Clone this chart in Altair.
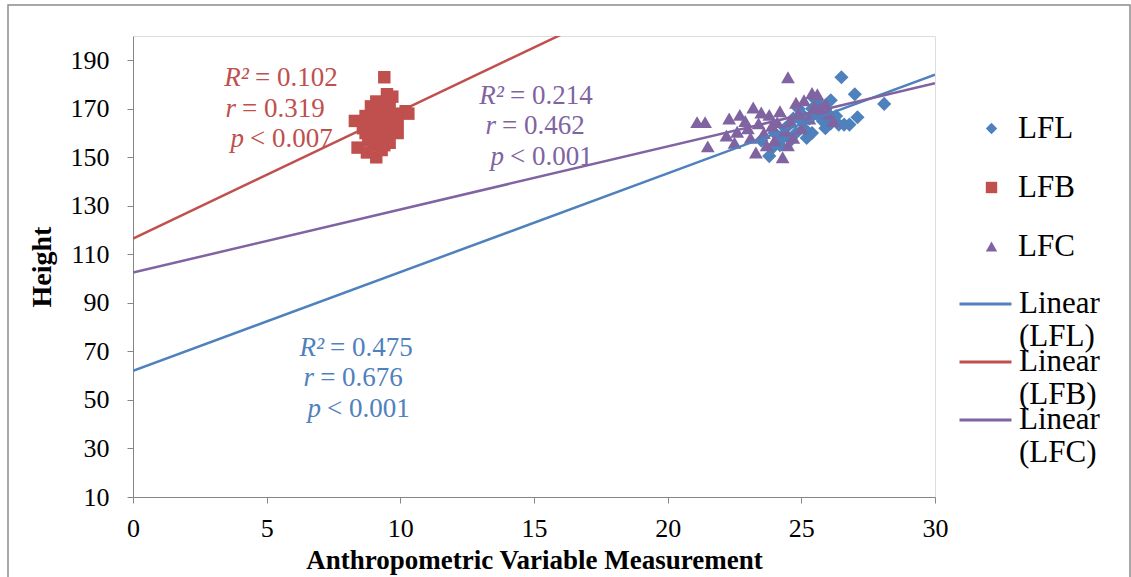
import altair as alt
import pandas as pd

# ---------------- data ----------------
series_names = ["LFL", "LFB", "LFC"]
series_colors = ["#4F81BD", "#C0504D", "#8064A2"]
series_shapes = ["diamond", "square", "triangle-up"]
series_sizes = [200, 155, 190]

lfl_x = [26.5, 27.0, 28.1, 27.1, 26.1, 25.7, 25.4, 26.1, 26.4, 26.6, 26.8, 25.9,
         25.4, 25.1, 25.0, 24.6, 23.9, 23.8, 24.2, 24.8, 25.3, 24.5, 24.0, 25.6,
         24.9, 25.8, 24.3, 25.2, 26.0, 24.7, 23.5, 25.5, 24.4, 26.3, 25.0]
lfl_y = [183, 176, 172, 166.5, 173.5, 172, 170, 164, 163.5, 163.5, 163.5, 162,
         160, 162, 165, 157, 153.7, 150.5, 155, 160, 166, 163, 160, 168,
         170, 165, 158, 158, 168, 166, 157, 174, 162, 167, 168]

lfb_x = [9.4, 9.5, 9.7, 9.1, 9.3, 8.9, 9.6, 9.0, 9.4, 9.8, 10.2, 10.3, 8.7, 9.2,
         9.6, 8.3, 8.8, 9.1, 9.5, 9.9, 8.6, 9.0, 9.4, 9.8, 8.7, 9.1, 9.5, 9.9,
         8.8, 9.2, 9.6, 8.4, 9.0, 9.4, 8.75, 9.1, 9.3, 9.7]
lfb_y = [183, 176, 175, 173, 172, 171, 171, 169, 169, 168, 169, 168, 167, 167,
         166, 165, 165, 164, 164, 165, 162, 162, 161, 162, 160, 159, 159, 160,
         157, 157, 156, 154, 155, 155, 152, 150, 153, 165]

lfc_x = [21.1, 21.4, 21.5, 22.2, 22.3, 22.5, 22.6, 22.7, 23.0, 23.2, 23.3, 23.4,
         23.5, 23.6, 23.8, 23.9, 24.0, 24.2, 24.3, 24.4, 24.5, 24.6, 24.7, 24.8,
         24.9, 25.0, 25.1, 25.3, 25.4, 25.6, 25.7, 25.9, 26.0, 26.2, 23.1, 22.9,
         24.1, 25.5, 23.7, 24.5]
lfc_y = [164.5, 164.5, 154.5, 159, 166, 156, 160.5, 167.5, 162, 170.5, 152, 164,
         168.5, 160, 167.5, 163, 157, 169, 150, 161, 183, 165, 158, 172.5,
         168, 162, 173.5, 166, 176.5, 176, 170, 172, 168, 165, 158, 165,
         164.5, 171, 155, 155]

trend_names = ["Linear (LFL)", "Linear (LFB)", "Linear (LFC)"]
trend_intercepts = [62.0, 116.5, 102.5]
trend_slopes = [4.07, 5.25, 2.6]
trend_x_range = [0, 30]

ann_var = ["R²", "r", "p", "R²", "r", "p", "R²", "r", "p"]
ann_rest = ["= 0.102", "= 0.319", "< 0.007",
            "= 0.214", "= 0.462", "< 0.001",
            "= 0.475", "= 0.676", "< 0.001"]
ann_x = [4.56, 4.08, 4.38, 14.10, 13.80, 14.10, 7.37, 7.00, 7.26]
ann_y = [182.6, 169.8, 157.4, 175.2, 162.8, 150.0, 71.4, 59.0, 46.2]
ann_series = ["LFB"] * 3 + ["LFC"] * 3 + ["LFL"] * 3

x_ticks = [0, 5, 10, 15, 20, 25, 30]
y_ticks = [10, 30, 50, 70, 90, 110, 130, 150, 170, 190]

# ---------------- tables ----------------
pts = pd.concat([
    pd.DataFrame({"x": lfl_x, "y": lfl_y, "series": "LFL"}),
    pd.DataFrame({"x": lfb_x, "y": lfb_y, "series": "LFB"}),
    pd.DataFrame({"x": lfc_x, "y": lfc_y, "series": "LFC"}),
], ignore_index=True)

trend_rows = []
for name, b, m in zip(trend_names, trend_intercepts, trend_slopes):
    for xv in trend_x_range:
        trend_rows.append({"x": xv, "y": b + m * xv, "trend": name})
trend = pd.DataFrame(trend_rows)

color_of = dict(zip(series_names, series_colors))
ann = pd.DataFrame({"x": ann_x, "y": ann_y, "var": ann_var, "rest": ann_rest,
                    "col": [color_of[s] for s in ann_series]})

FONT = "Liberation Serif"
xscale = alt.Scale(domain=[0, 30], nice=False, zero=False)
yscale = alt.Scale(domain=[10, 200], nice=False, zero=False)

xaxis = alt.Axis(values=x_ticks, title="Anthropometric Variable Measurement",
                 grid=False, domainColor="#868686", tickColor="#868686",
                 tickSize=6, labelPadding=12, labelFontSize=26, labelFont=FONT,
                 labelColor="black", labelFlush=False, titleFont=FONT,
                 titleFontSize=27, titleFontWeight="bold", titleColor="black",
                 titlePadding=6)
yaxis = alt.Axis(values=y_ticks, title="Height", grid=False,
                 domainColor="#868686", tickColor="#868686", tickSize=6,
                 labelPadding=18, labelFontSize=26, labelFont=FONT,
                 labelColor="black", titleFont=FONT, titleFontSize=28,
                 titleFontWeight="bold", titleColor="black", titlePadding=14)

pt_legend = alt.Legend(title=None, orient="none", legendX=843, legendY=77,
                       symbolSize=130, labelFont=FONT, labelFontSize=31,
                       labelColor="black", labelOffset=11, rowPadding=27,
                       symbolStrokeWidth=0)

point_layers = []
for name, size in zip(series_names, series_sizes):
    point_layers.append(
        alt.Chart(pts).transform_filter(alt.datum.series == name)
        .mark_point(filled=True, opacity=1, size=size).encode(
            x=alt.X("x:Q", scale=xscale, axis=xaxis),
            y=alt.Y("y:Q", scale=yscale, axis=yaxis),
            color=alt.Color("series:N",
                            scale=alt.Scale(domain=series_names, range=series_colors),
                            legend=pt_legend),
            shape=alt.Shape("series:N",
                            scale=alt.Scale(domain=series_names, range=series_shapes),
                            legend=pt_legend),
        )
    )

lines = alt.Chart(trend).mark_line(strokeWidth=2.5, clip=True).encode(
    x=alt.X("x:Q", scale=xscale),
    y=alt.Y("y:Q", scale=yscale),
    detail="trend:N",
    stroke=alt.Stroke("trend:N",
                      scale=alt.Scale(domain=trend_names, range=series_colors),
                      legend=alt.Legend(title=None, orient="none", legendX=825,
                                        legendY=258, symbolType="stroke",
                                        symbolSize=2704, symbolStrokeWidth=3,
                                        labelFont=FONT, labelFontSize=31,
                                        labelColor="black", labelOffset=6,
                                        labelBaseline="middle", labelLimit=300,
                                        labelExpr="split(datum.label, ' ')",
                                        clipHeight=20, rowPadding=-6)),
)

ann_var_layer = alt.Chart(ann).mark_text(
    font=FONT, fontSize=27, fontStyle="italic", align="right", baseline="middle", dx=-6
).encode(
    x=alt.X("x:Q", scale=xscale), y=alt.Y("y:Q", scale=yscale),
    text="var:N", fill=alt.Fill("col:N", scale=None, legend=None))

ann_rest_layer = alt.Chart(ann).mark_text(
    font=FONT, fontSize=27, align="left", baseline="middle", dx=0
).encode(
    x=alt.X("x:Q", scale=xscale), y=alt.Y("y:Q", scale=yscale),
    text="rest:N", fill=alt.Fill("col:N", scale=None, legend=None))

frame = alt.Chart(pd.DataFrame({"f": [0]})).mark_rect(
    fillOpacity=0, stroke="#8c8c8c", strokeWidth=1.5
).encode(x=alt.value(-125), x2=alt.value(997), y=alt.value(-31), y2=alt.value(560))

chart = alt.layer(frame, *point_layers, lines, ann_var_layer, ann_rest_layer).properties(
    width=802, height=461,
    autosize=alt.AutoSizeParams(type="none"),
    padding={"left": 133, "top": 36, "right": 196, "bottom": 80},
).configure_view(stroke="black", strokeWidth=1).configure(background="white")

chart.save("out.html", embed_options={"renderer": "svg", "actions": False})
